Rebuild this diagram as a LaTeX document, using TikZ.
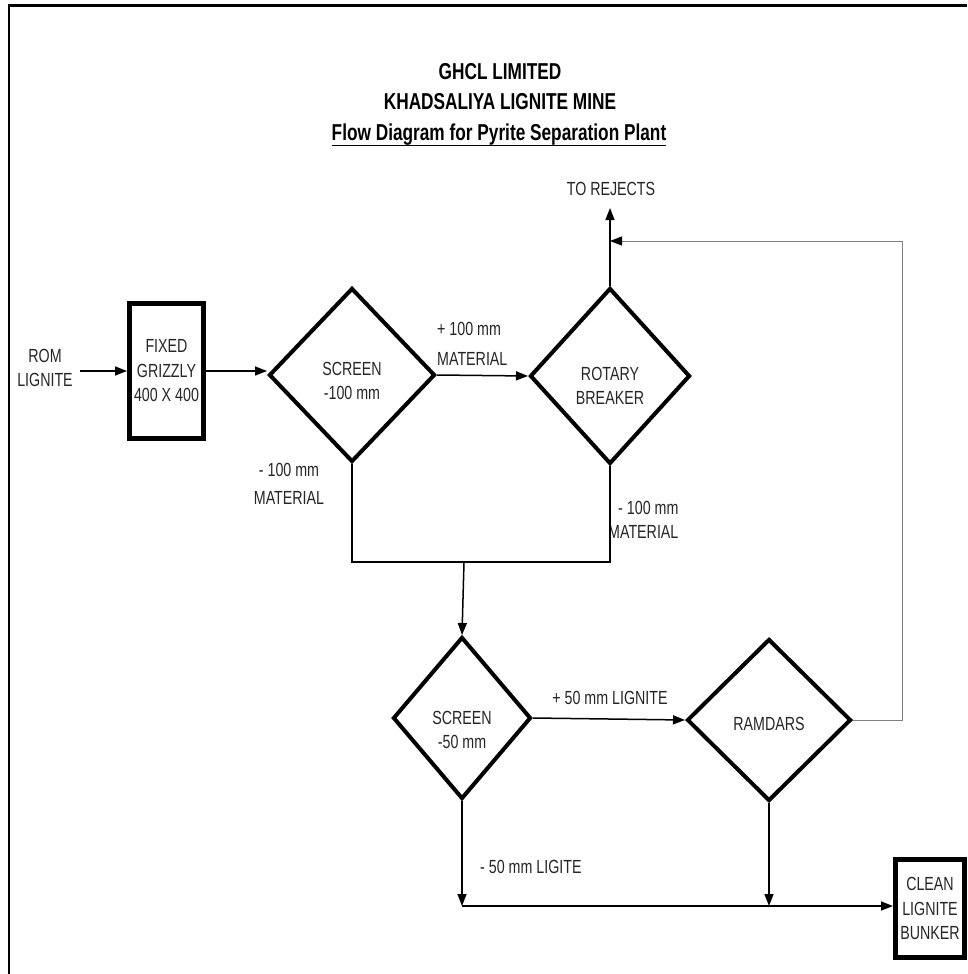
\documentclass[tikz,border=0pt]{standalone}
\usepackage{fontspec}
\setmainfont[FakeStretch=0.75]{Liberation Sans}
\usetikzlibrary{shapes.geometric,arrows.meta}
\begin{document}
\begin{tikzpicture}[x=1pt,y=-1pt,
  dia/.style={draw, shape=diamond, line width=4pt, inner sep=0pt},
  boxnode/.style={draw, rectangle, line width=5pt, inner sep=0pt, align=center,
    font=\fontsize{19}{24.5}\selectfont, text=black!85},
  txt/.style={font=\fontsize{19}{24.5}\selectfont, align=center, inner sep=2pt, text=black!85},
  ttl/.style={font=\fontsize{23}{28}\selectfont\bfseries, inner sep=1pt},
  conn/.style={line width=1.5pt},
  arr/.style={conn, -{Triangle[length=12pt,width=9pt]}},
  fb/.style={line width=1pt, draw=black!50, -{Triangle[length=12pt,width=9pt,color=black]}},
]
\useasboundingbox (0,0) rectangle (967,974);
% frame
\draw[line width=2pt] (9,974) -- (9,6);
\draw[line width=3pt] (8,6) -- (967,6);

% titles
\node[ttl] (t1) at (500,72) {GHCL LIMITED};
\node[ttl] (t2) at (500,102) {KHADSALIYA LIGNITE MINE};
\node[ttl] (t3) at (499,135) {\setbox0\hbox{Flow Diagram for Pyrite Separation Plant}\rlap{\rule[-6pt]{\wd0}{1.8pt}}\box0};

% nodes
\node[txt] (rom) at (45,368) {ROM\\LIGNITE};
\node[boxnode, minimum width=74pt, minimum height=135pt] (grizzly) at (166.5,371) {FIXED\\GRIZZLY\\400 X 400};

\node[dia, minimum width=166pt, minimum height=174pt] (scr1) at (352,375) {};
\node[txt] (scr1t) at (352,381) {SCREEN\\-100 mm};

\node[dia, minimum width=160pt, minimum height=176pt] (rot) at (610,376) {};
\node[txt] (rott) at (610,386) {ROTARY\\BREAKER};

\node[txt] (rej) at (611,189) {TO REJECTS};
\coordinate (rejtip) at (610,208);

\node[txt, anchor=west] (p100a) at (435,329) {+ 100 mm};
\node[txt, anchor=west] (p100b) at (435,359) {MATERIAL};

\node[txt] (m100L) at (289,484) {- 100 mm\\[4pt]MATERIAL};
\node[txt, anchor=west] (m100R) at (606,520) {\hspace*{10pt}- 100 mm\\[0pt]MATERIAL};

\coordinate (junc) at (464,562);

\node[dia, minimum width=138pt, minimum height=162pt] (scr2) at (462,718) {};
\node[txt] (scr2t) at (462,730) {SCREEN\\-50 mm};

\node[txt] (p50) at (610,698) {+ 50 mm LIGNITE};

\node[dia, minimum width=164pt, minimum height=162pt] (ram) at (769,720) {};
\node[txt] (ramt) at (769,724) {RAMDARS};

\node[txt, anchor=west] (m50) at (478,867) {- 50 mm LIGITE};

\node[boxnode, minimum width=69pt, minimum height=98pt] (bunker) at (930,908.5) {CLEAN\\LIGNITE\\BUNKER};

\coordinate (bline) at (460,906);
\coordinate (fbtop) at (902,241);
\coordinate (fbin) at (610,241);

% connectors
\draw[arr, shorten <=5pt] (rom.east |- grizzly.west) -- (grizzly.west);
\draw[arr] (grizzly.east) -- (grizzly.east -| scr1.west);
\draw[arr] (scr1.east) -- (rot.west);
\draw[arr] (rot.north) -- (rejtip);
\draw[fb] (ram.east) -| (fbtop) -- (fbin);
\draw[conn] (scr1.south) |- (junc) -| (rot.south);
\draw[arr] (junc) -- (scr2.north);
\draw[arr] (scr2.east) -- (ram.west);
\draw[arr] (scr2.south) -- (scr2.south |- bline);
\draw[arr] (ram.south) -- (ram.south |- bline);
\draw[arr] (scr2.south |- bline) -- (bunker.west |- bline);
\end{tikzpicture}
\end{document}
